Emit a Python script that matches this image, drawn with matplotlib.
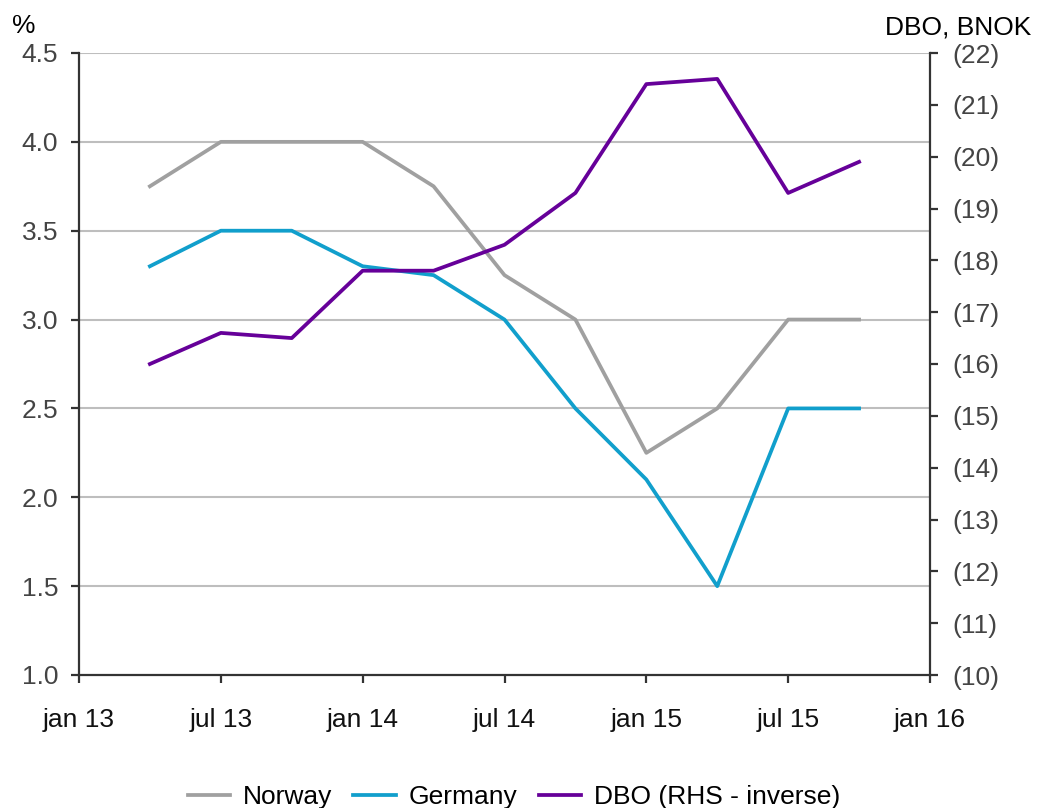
import matplotlib
matplotlib.use("Agg")
import matplotlib.pyplot as plt
from matplotlib.ticker import FixedLocator, FuncFormatter

plt.rcParams['font.family'] = ['Liberation Sans', 'DejaVu Sans']

# Quarterly observations, in months since jan 13
months = [3, 6, 9, 12, 15, 18, 21, 24, 27, 30, 33]
norway = [3.75, 4.0, 4.0, 4.0, 3.75, 3.25, 3.0, 2.25, 2.5, 3.0, 3.0]
germany = [3.3, 3.5, 3.5, 3.3, 3.25, 3.0, 2.5, 2.1, 1.5, 2.5, 2.5]
dbo = [-16.0, -16.6, -16.5, -17.8, -17.8, -18.3, -19.3, -21.4, -21.5, -19.3, -19.9]

x_tick_pos = [0, 6, 12, 18, 24, 30, 36]
x_tick_labels = ['jan 13', 'jul 13', 'jan 14', 'jul 14', 'jan 15', 'jul 15', 'jan 16']
left_ticks = [1.0, 1.5, 2.0, 2.5, 3.0, 3.5, 4.0, 4.5]
right_ticks = list(range(-22, -9))

c_nor = '#A0A0A0'
c_ger = '#119FCC'
c_dbo = '#660099'
c_axis = '#333333'
fs = 19

fig = plt.figure(figsize=(10.38, 8.08), dpi=100)
ax = fig.add_axes([79 / 1038, 1 - 675 / 808, (930 - 79) / 1038, (675 - 53) / 808])
ax2 = ax.twinx()

ax.set_xlim(0, 36)
ax.set_ylim(1.0, 4.5)
ax2.set_ylim(-10, -22)

for y in left_ticks[1:]:
    ax.axhline(y, color='#BEBEBE', lw=1.5, zorder=0)

ln1, = ax.plot(months, norway, color=c_nor, lw=2.7, label='Norway', zorder=3)
ln2, = ax.plot(months, germany, color=c_ger, lw=2.7, label='Germany', zorder=3)
ln3, = ax2.plot(months, dbo, color=c_dbo, lw=2.7, label='DBO (RHS - inverse)', zorder=3)

ax.set_xticks(x_tick_pos)
ax.set_xticklabels(x_tick_labels)
ax.yaxis.set_major_locator(FixedLocator(left_ticks))
ax.yaxis.set_major_formatter(FuncFormatter(lambda v, p: f'{v:.1f}'))
ax2.yaxis.set_major_locator(FixedLocator(right_ticks))
ax2.yaxis.set_major_formatter(FuncFormatter(lambda v, p: f'({abs(v):.0f})'))

for a in (ax, ax2):
    a.spines['top'].set_visible(False)
    for s in ('left', 'right', 'bottom'):
        a.spines[s].set_color(c_axis)
        a.spines[s].set_linewidth(1.6)
ax.spines['right'].set_visible(False)
ax2.spines['left'].set_visible(False)
ax2.spines['bottom'].set_visible(False)

ax.tick_params(axis='y', direction='out', length=6, width=1.6, color=c_axis,
               labelsize=fs, labelcolor='#444444', pad=9)
ax.tick_params(axis='x', direction='out', length=6, width=1.6, color=c_axis,
               labelsize=fs, labelcolor='#111111', pad=18)
ax2.tick_params(axis='y', direction='out', length=6, width=1.6, color=c_axis,
                labelsize=fs, labelcolor='#444444', pad=10)

fig.text(12 / 1038, 1 - 26 / 808, '%', fontsize=fs, ha='left', va='center')
fig.text(1031 / 1038, 1 - 28 / 808, 'DBO, BNOK', fontsize=fs, ha='right', va='center')

fig.legend(handles=[ln1, ln2, ln3], loc='center', bbox_to_anchor=(514 / 1038, 1 - 797 / 808),
           ncol=3, frameon=False, fontsize=fs, handlelength=1.6, handletextpad=0.5,
           columnspacing=0.8)

fig.savefig('out.png', dpi=100)
